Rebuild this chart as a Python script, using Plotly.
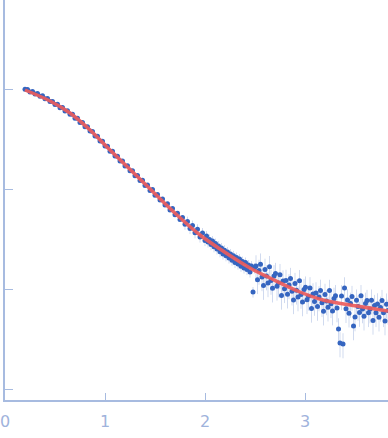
import plotly.graph_objects as go
import numpy as np

# Scattering data (q in nm^-1, log10 intensity)
q_low = [0.200, 0.225, 0.250, 0.275, 0.300, 0.325, 0.350, 0.375, 0.400, 0.425,
         0.450, 0.475, 0.500, 0.525, 0.550, 0.575, 0.600, 0.625, 0.650, 0.675,
         0.700, 0.725, 0.750, 0.775, 0.800, 0.825, 0.850, 0.875, 0.900, 0.925,
         0.950, 0.975, 1.000, 1.025, 1.050, 1.075, 1.100, 1.125, 1.150, 1.175,
         1.200, 1.225, 1.250, 1.275, 1.300, 1.325, 1.350, 1.375, 1.400, 1.425,
         1.450, 1.475, 1.500, 1.525, 1.550, 1.575, 1.600, 1.625, 1.650, 1.675,
         1.700, 1.725, 1.750, 1.775, 1.800, 1.825, 1.850, 1.875, 1.900, 1.925,
         1.950, 1.975, 2.000]
logI_low = [-0.002, -0.004, -0.030, -0.026, -0.050, -0.044, -0.072, -0.068, -0.098, -0.094,
            -0.126, -0.124, -0.156, -0.152, -0.187, -0.185, -0.219, -0.217, -0.252, -0.253,
            -0.292, -0.292, -0.334, -0.334, -0.377, -0.377, -0.421, -0.424, -0.469, -0.472,
            -0.520, -0.522, -0.570, -0.572, -0.622, -0.623, -0.671, -0.672, -0.720, -0.720,
            -0.769, -0.768, -0.818, -0.817, -0.868, -0.864, -0.916, -0.912, -0.965, -0.959,
            -1.014, -1.006, -1.062, -1.054, -1.111, -1.101, -1.160, -1.148, -1.209, -1.195,
            -1.258, -1.242, -1.306, -1.285, -1.352, -1.326, -1.395, -1.365, -1.438, -1.402,
            -1.480, -1.440, -1.515]

q_high = [2.015, 2.030, 2.045, 2.060, 2.075, 2.090, 2.105, 2.120, 2.135, 2.150,
          2.165, 2.180, 2.195, 2.210, 2.225, 2.240, 2.255, 2.270, 2.285, 2.300,
          2.315, 2.330, 2.345, 2.360, 2.375, 2.390, 2.405, 2.420, 2.435, 2.450,
          2.465, 2.480, 2.495, 2.510, 2.525, 2.540, 2.555, 2.570, 2.585, 2.600,
          2.615, 2.630, 2.645, 2.660, 2.675, 2.690, 2.705, 2.720, 2.735, 2.750,
          2.765, 2.780, 2.795, 2.810, 2.825, 2.840, 2.855, 2.870, 2.885, 2.900,
          2.915, 2.930, 2.945, 2.960, 2.975, 2.990, 3.005, 3.020, 3.035, 3.050,
          3.065, 3.080, 3.095, 3.110, 3.125, 3.140, 3.155, 3.170, 3.185, 3.200,
          3.215, 3.230, 3.245, 3.260, 3.275, 3.290, 3.305, 3.320, 3.335, 3.350,
          3.365, 3.380, 3.395, 3.410, 3.425, 3.440, 3.455, 3.470, 3.485, 3.500,
          3.515, 3.530, 3.545, 3.560, 3.575, 3.590, 3.605, 3.620, 3.635, 3.650,
          3.665, 3.680, 3.695, 3.710, 3.725, 3.740, 3.755, 3.770, 3.785, 3.800,
          3.815, 3.830]
logI_high = [-1.470, -1.530, -1.505, -1.556, -1.520, -1.578, -1.545, -1.600, -1.570, -1.628,
             -1.590, -1.650, -1.612, -1.668, -1.630, -1.690, -1.650, -1.712, -1.668, -1.735,
             -1.685, -1.750, -1.700, -1.772, -1.725, -1.790, -1.735, -1.805, -1.760, -1.830,
             -1.770, -2.030, -1.790,
             -1.770, -1.908, -1.815, -1.752, -1.879, -1.966, -1.804, -1.871, -1.939, -1.777,
             -1.915, -1.992, -1.869, -1.846, -1.973, -1.940, -1.857, -2.064, -1.921, -1.998,
             -1.915, -2.052, -1.959, -1.896, -2.022, -2.109, -1.946, -2.013, -2.080, -1.917,
             -2.054, -2.130, -2.006, -1.982, -2.108, -2.073, -1.989, -2.194, -2.050, -2.125,
             -2.040, -2.175, -2.080, -2.014, -2.138, -2.222, -2.055, -2.119, -2.182, -2.015,
             -2.148, -2.221, -2.094, -2.067, -2.190, -2.400, -2.540, -2.069, -2.550, -1.990,
             -2.197, -2.110, -2.242, -2.144, -2.076, -2.370, -2.280, -2.112, -2.174, -2.236,
             -2.068, -2.200, -2.272, -2.144, -2.116, -2.238, -2.200, -2.112, -2.314, -2.166,
             -2.238, -2.150, -2.282, -2.184, -2.116, -2.238, -2.320, -2.152, -2.214]

# Relative error (percent) by q segment
err_segments_q = [0.0, 1.8, 2.5, 4.0]
err_segments_pct = [2.0, 12.0, 28.0]

# Fitted model curve
fit_q = [0.20, 0.45, 0.65, 0.85, 1.05, 1.38, 1.72, 1.95, 2.15, 2.45, 2.65, 2.95, 3.18, 3.52, 3.83]
fit_logI = [-0.01, -0.12, -0.24, -0.41, -0.61, -0.93, -1.26, -1.46, -1.60, -1.79, -1.89, -2.03, -2.11, -2.17, -2.22]

x_tickvals = [0, 1, 2, 3]
y_tickvals = [1, 0.1, 0.01, 0.001]

q_all = np.array(q_low + q_high)
I_all = np.power(10.0, np.array(logI_low + logI_high))

AXIS = "#a7bbe0"
fig = go.Figure()
for i, pct in enumerate(err_segments_pct):
    m = (q_all >= err_segments_q[i]) & (q_all < err_segments_q[i + 1])
    fig.add_trace(go.Scatter(
        x=q_all[m], y=I_all[m], mode="markers",
        marker=dict(color="#3565c0", size=5),
        error_y=dict(type="percent", value=pct, color="rgba(120,150,210,0.35)",
                     thickness=1, width=0),
        showlegend=False, hoverinfo="skip"))

fig.add_trace(go.Scatter(
    x=fit_q, y=np.power(10.0, np.array(fit_logI)), mode="lines",
    line=dict(color="rgba(236,92,92,0.92)", width=3.5, shape="spline"),
    showlegend=False, hoverinfo="skip"))

fig.update_layout(
    width=388, height=438,
    margin=dict(l=5, r=0, t=0, b=38, autoexpand=False),
    plot_bgcolor="white", paper_bgcolor="white",
    font=dict(family="DejaVu Sans", size=16, color="#9fb3dc"),
    xaxis=dict(range=[0, 3.83], showgrid=False, zeroline=False, showline=True,
               linecolor=AXIS, linewidth=1.5, ticks="inside", ticklen=7,
               tickcolor=AXIS, tickvals=x_tickvals, ticklabeloverflow="allow",
               ticklabelstandoff=6,
               tickfont=dict(color="#9fb3dc", size=16)),
    yaxis=dict(type="log", range=[-3.11, 0.89], showgrid=False, zeroline=False,
               showline=True, linecolor=AXIS, linewidth=1.5, ticks="inside",
               ticklen=8, tickcolor=AXIS, tickvals=y_tickvals, showticklabels=False),
)

fig.write_html("out.html", config={"displayModeBar": False},
               post_script="document.body.style.margin='0';document.body.style.overflow='hidden';")
